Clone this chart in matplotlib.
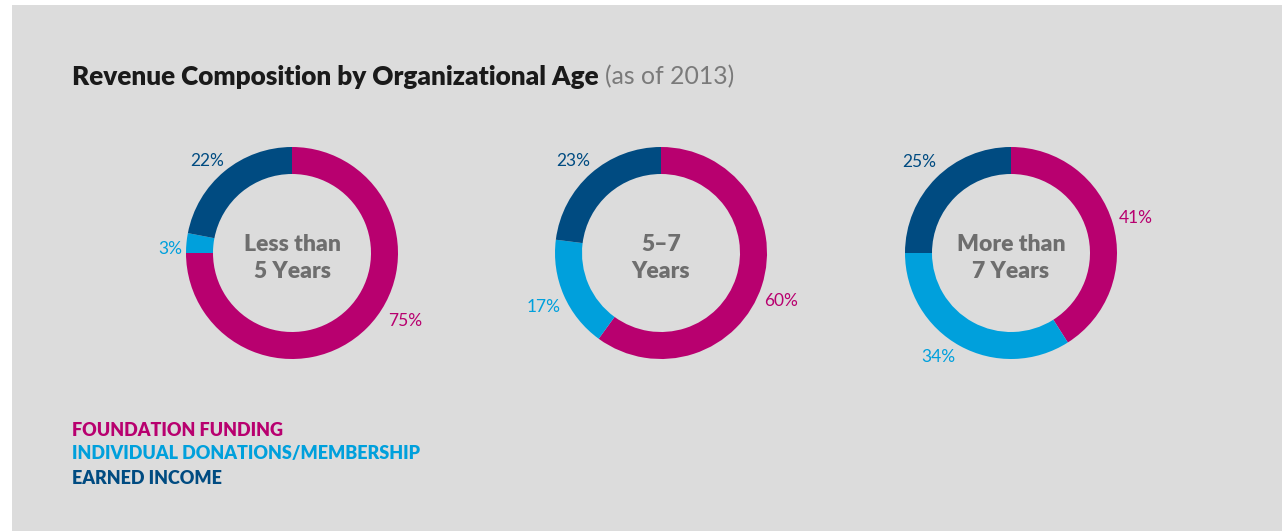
import matplotlib.pyplot as plt
from matplotlib.patches import Rectangle

W, H = 1287, 531

# data
groups = ["Less than\n5 Years", "5\u20137\nYears", "More than\n7 Years"]
sources = ["FOUNDATION FUNDING", "INDIVIDUAL DONATIONS/MEMBERSHIP", "EARNED INCOME"]
foundation = [75, 60, 41]
individual = [3, 17, 34]
earned = [22, 23, 25]

colors = ["#b8006f", "#00a0dc", "#004b81"]
gray = "#6e6e6e"

# layout (pixel coords, y from top)
centers = [(292, 253), (661, 253), (1011, 253)]
R = 106
ring = 27
label_pos = [
    [(405, 321), (170, 249), (207, 161)],
    [(781, 301), (544, 307), (573, 161)],
    [(1136, 218), (938, 357), (919, 162)],
]

plt.rcParams['font.family'] = ['Lato', 'DejaVu Sans']

fig = plt.figure(figsize=(W / 100, H / 100), dpi=100, facecolor="white")
ax = fig.add_axes([0, 0, 1, 1])

# gray panel
ax.add_patch(Rectangle((12, 0), 1270, H - 5, facecolor="#dcdcdc", edgecolor="none", zorder=0))

for i, (cx, cy) in enumerate(centers):
    vals = [foundation[i], individual[i], earned[i]]
    ax.pie(vals, colors=colors, startangle=90, counterclock=False,
           center=(cx, H - cy), radius=R, frame=True,
           wedgeprops=dict(width=ring, edgecolor="none"))
    ax.text(cx, H - cy - 5, groups[i], ha="center", va="center", fontsize=16.5,
            fontweight="heavy", color=gray, linespacing=1.3)
    for j, v in enumerate(vals):
        lx, ly = label_pos[i][j]
        ax.text(lx, H - ly, f"{v}%", ha="center", va="center", fontsize=12.5,
                color=colors[j], fontweight="normal")

ax.set_xlim(0, W)
ax.set_ylim(0, H)
ax.set_aspect("auto")
ax.axis("off")

# title
t = ax.text(72, H - 77, "Revenue Composition by Organizational Age", ha="left", va="center",
            fontsize=18.8, fontweight="heavy", color="#1a1a1a")
fig.canvas.draw()
bb = t.get_window_extent()
ax.text(bb.x1 + 6, H - 77, "(as of 2013)", ha="left", va="center",
        fontsize=17.8, color="#7a7a7a", fontweight="normal")

# legend text
for k, s in enumerate(sources):
    ax.text(72, H - (430 + 24 * k), s, ha="left", va="center", fontsize=13,
            fontweight="heavy", color=colors[k])

fig.savefig("out.png", dpi=100, facecolor="white")
